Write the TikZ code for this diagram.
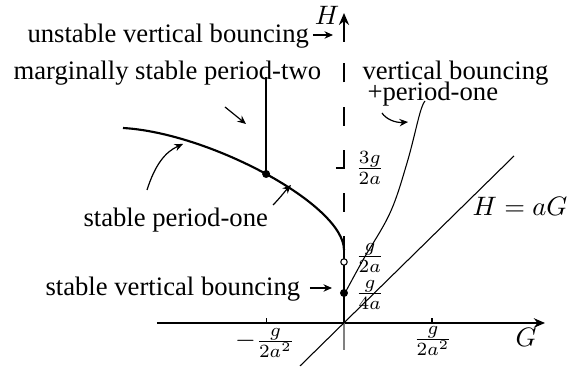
\documentclass[tikz,border=0pt]{standalone}
\usepackage[no-math]{fontspec}
\setmainfont{Liberation Serif}
\usetikzlibrary{arrows.meta}
\begin{document}
\begin{tikzpicture}[x=0.375pt,y=-0.375pt,
  lbl/.style={inner sep=0pt},
  ptr/.style={-{Stealth[length=3.2pt,width=2.8pt]}, line width=0.45pt},
  axisline/.style={line width=0.45pt},
  thickline/.style={line width=1.1pt},
  dot/.style={circle, fill=black, inner sep=0pt, minimum size=3pt},
  odot/.style={circle, draw=black, fill=white, line width=0.4pt, inner sep=0pt, minimum size=2.4pt}]
\useasboundingbox (0,0) rectangle (577,368);

% coordinates
\coordinate (O) at (344,323);
\coordinate (Gs) at (157,323);
\coordinate (Ge) at (545,323);
\coordinate (Hb) at (344,236);
\coordinate (Hdash1) at (344,212);
\coordinate (Hdash2) at (344,42);
\coordinate (Htip) at (344,13);
\coordinate (Cend) at (344,250);
\coordinate (Cstart) at (123,128);

% G axis
\draw[axisline, -{Stealth[length=4.2pt,width=3.6pt]}] (Gs) -- (Ge);
% gray stub below origin
\draw[gray, line width=0.45pt] (O) -- (344,350);
% line H = aG
\draw[line width=0.4pt] (300,366) -- (514,156);

% stable period-one curve
\draw[line width=0.8pt] (Cend) .. controls (344,205) and (210,133) .. (Cstart)
  coordinate[pos=0.5] (P2);
% thick H-axis part
\draw[thickline] (O) -- (Hb);
\draw[thickline, dash pattern=on 7.1pt off 9.1pt] (Hdash1) -- (Hdash2);
\draw[thickline, -{Stealth[length=4.5pt,width=3.8pt]}] (Hdash2) -- (Htip);
\draw[thickline] (336,168) -- (344,168);

% ticks on G axis
\draw[axisline] (P2 |- O) -- ++(0,-5);
\draw[axisline] (432,323) -- (432,318);

% marginally stable period-two line
\draw[line width=0.65pt] (P2) -- (P2 |- 0,77);

% vertical bouncing + period-one curve
\draw[line width=0.4pt] plot[smooth, tension=0.6] coordinates {(345,293) (363,260) (390,213) (407,163) (420,113) (425,101)};

% dots
\node[odot] (c2a) at (344,262) {};
\node[dot] (d4a) at (344,293) {};
\node[dot] (dP2) at (P2) {};

% texts
\node[lbl, anchor=base west] (tUVB) at (27,43) {unstable vertical bouncing};
\draw[ptr] (313,35) -- (333,35);
\node[lbl, anchor=base west] (tMSP) at (13,80) {marginally stable period-two};
\draw[ptr] (225,107) -- (246,124);
\node[lbl, anchor=base west] (tVB) at (362,80) {vertical bouncing};
\node[lbl, anchor=base west] (tPO) at (367,101) {+period-one};
\draw[ptr] (382,113) .. controls (386,119) and (395,123) .. (408,122);
\node[lbl, anchor=base west] (tSPO) at (83,227) {stable period-one};
\draw[ptr] (147,190) .. controls (155,165) and (165,152) .. (183,144);
\draw[ptr] (273,205) .. controls (280,198) and (286,190) .. (291,185);
\node[lbl, anchor=base west] (tSVB) at (45,296) {stable vertical bouncing};
\draw[ptr] (310,288) -- (332,288);

% math labels
\node[lbl, anchor=base west] (l3g) at (355,175) {$\frac{3g}{2a}$};
\node[lbl, anchor=base west] (l2a) at (355,263) {$\frac{g}{2a}$};
\node[lbl, anchor=base west] (l4a) at (355,300) {$\frac{g}{4a}$};
\node[lbl, anchor=base] (lneg) at (265,348) {$-\frac{g}{2a^2}$};
\node[lbl, anchor=base] (lpos) at (433,346) {$\frac{g}{2a^2}$};
\node[lbl, anchor=base] (lH) at (327,25) {$H$};
\node[lbl, anchor=base] (lG) at (526,347) {$G$};
\node[lbl, anchor=base] (lHaG) at (520,216) {$H=aG$};
\end{tikzpicture}
\end{document}
